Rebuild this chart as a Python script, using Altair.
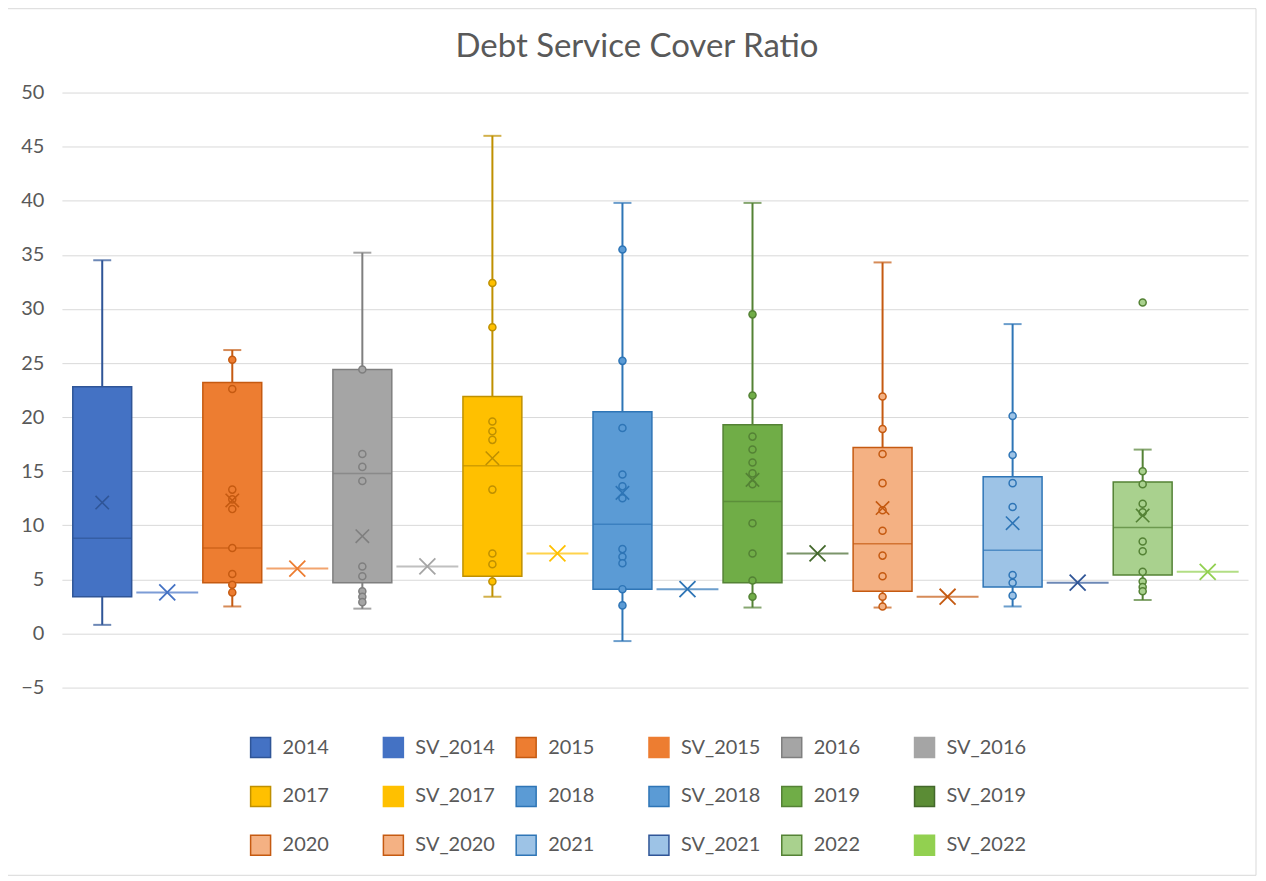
import altair as alt
import pandas as pd

# ---------------- data ----------------
years = ["2014", "2015", "2016", "2017", "2018", "2019", "2020", "2021", "2022"]
sv_names = ["SV_" + y for y in years]
series = [s for pair in zip(years, sv_names) for s in pair]

box_min = [0.8, 2.5, 2.3, 3.4, -0.7, 2.4, 2.4, 2.5, 3.1]
box_q1 = [3.4, 4.7, 4.7, 5.3, 4.1, 4.7, 3.9, 4.3, 5.4]
box_median = [8.8, 7.9, 14.8, 15.5, 10.1, 12.2, 8.3, 7.7, 9.8]
box_q3 = [22.8, 23.2, 24.4, 21.9, 20.5, 19.3, 17.2, 14.5, 14.0]
box_max = [34.5, 26.2, 35.2, 46.0, 39.8, 39.8, 34.3, 28.6, 17.0]
box_mean = [12.1, 12.3, 9.0, 16.2, 13.0, 14.2, 11.6, 10.2, 10.9]

points_2015 = [25.3, 22.6, 13.3, 12.4, 11.5, 7.9, 5.5, 4.5, 3.8]
points_2016 = [24.4, 16.6, 15.4, 14.1, 6.2, 5.3, 3.9, 3.4, 2.9]
points_2017 = [32.4, 28.3, 19.6, 18.7, 17.9, 13.3, 7.4, 6.4, 4.8]
points_2018 = [35.5, 25.2, 19.0, 14.7, 13.6, 12.5, 7.8, 7.1, 6.5, 4.1, 2.6]
points_2019 = [29.5, 22.0, 18.2, 17.0, 15.8, 14.8, 13.8, 10.2, 7.4, 4.9, 3.4]
points_2020 = [21.9, 18.9, 16.6, 13.9, 11.4, 9.5, 7.2, 5.3, 3.4, 2.5]
points_2021 = [20.1, 16.5, 13.9, 11.7, 5.4, 4.7, 3.5]
points_2022 = [30.6, 15.0, 13.8, 12.0, 11.2, 8.5, 7.6, 5.7, 4.8, 4.3, 3.9]

sv_values = [3.8, 6.0, 6.2, 7.4, 4.1, 7.4, 3.4, 4.7, 5.7]

fill_colors = [
    "#4472C4", "#4472C4", "#ED7D31", "#ED7D31", "#A5A5A5", "#A5A5A5",
    "#FFC000", "#FFC000", "#5B9BD5", "#5B9BD5", "#70AD47", "#5B8C35",
    "#F4B183", "#F4B183", "#9DC3E6", "#9DC3E6", "#A9D18E", "#92D050",
]
stroke_colors = [
    "#2F5597", "#4472C4", "#C55A11", "#ED7D31", "#7F7F7F", "#A5A5A5",
    "#BF9000", "#FFC000", "#2E75B6", "#2E75B6", "#548235", "#43682B",
    "#C55A11", "#C55A11", "#2E75B6", "#2F5597", "#548235", "#92D050",
]
title_text = "Debt Service Cover Ratio"

# ---------------- tables ----------------
box_df = pd.DataFrame({
    "series": years, "min": box_min, "q1": box_q1, "median": box_median,
    "q3": box_q3, "max": box_max, "mean": box_mean,
})
pts_lists = {
    "2015": points_2015, "2016": points_2016, "2017": points_2017,
    "2018": points_2018, "2019": points_2019, "2020": points_2020,
    "2021": points_2021, "2022": points_2022,
}
pts_df = pd.DataFrame(
    [{"series": k, "value": v} for k, vals in pts_lists.items() for v in vals]
)
sv_df = pd.DataFrame({"series": sv_names, "value": sv_values})

# colour order for the data-driven (alphabetical) line-colour scale
sorted_series = sorted(series)
line_colors_sorted = [stroke_colors[series.index(s)] for s in sorted_series]

FONT = "Lato"
GREY = "#595959"

x_enc = alt.X("series:N", scale=alt.Scale(domain=series, paddingInner=0, paddingOuter=0.12),
              axis=None)
y_scale = alt.Scale(domain=[-5, 50], nice=False, zero=False)
y_axis = alt.Axis(values=list(range(-5, 51, 5)), title=None, domain=False, ticks=False,
                  labelFontSize=20, labelFont=FONT, labelColor=GREY, labelPadding=18,
                  gridColor="#D9D9D9", gridWidth=1)


def Y(field):
    return alt.Y(f"{field}:Q", scale=y_scale, axis=y_axis, title=None)


legend = alt.Legend(
    title=None, orient="none", legendX=188, legendY=645, columns=6, direction="horizontal",
    gridAlign="all", symbolType="square", symbolSize=400, symbolStrokeWidth=1.5,
    labelFontSize=20, labelFont=FONT, labelColor=GREY, labelOffset=11,
    columnPadding=18, rowPadding=23,
)
fill_enc = alt.Fill("series:N", scale=alt.Scale(domain=series, range=fill_colors), legend=legend)
stroke_enc = alt.Stroke("series:N", scale=alt.Scale(domain=series, range=stroke_colors), legend=legend)
color_enc = alt.Color("series:N", scale=alt.Scale(range=line_colors_sorted), legend=None)

x_shape = "M-1,-1L1,1M-1,1L1,-1"

one = pd.DataFrame({"title": [title_text]})
frame = alt.Chart(one).mark_rect(
    filled=False, stroke="#D9D9D9", strokeWidth=1
).encode(x=alt.value(-57), x2=alt.value(1196), y=alt.value(-84), y2=alt.value(784))
title = alt.Chart(one).mark_text(
    font=FONT, fontSize=33, color=GREY, align="center", baseline="middle"
).encode(text="title:N", x=alt.value(576), y=alt.value(-46))

base = alt.Chart(box_df)
whisker = base.mark_rule(strokeWidth=2).encode(x=x_enc, y=Y("min"), y2="max", color=color_enc)
cap_lo = base.mark_tick(size=18, thickness=2).encode(x=x_enc, y=Y("min"), color=color_enc)
cap_hi = base.mark_tick(size=18, thickness=2).encode(x=x_enc, y=Y("max"), color=color_enc)
box = base.mark_bar(size=59, strokeWidth=1.5).encode(
    x=x_enc, y=Y("q1"), y2="q3", fill=fill_enc, stroke=stroke_enc)
median = base.mark_tick(size=59, thickness=1.5).encode(x=x_enc, y=Y("median"), color=color_enc)
mean = base.mark_point(shape=x_shape, size=180, strokeWidth=1.6, filled=False, opacity=1).encode(
    x=x_enc, y=Y("mean"), color=color_enc)

pts = alt.Chart(pts_df).mark_circle(size=50, strokeWidth=1.5, opacity=1).encode(
    x=x_enc, y=Y("value"), fill=fill_enc, stroke=stroke_enc)

sv_line = alt.Chart(sv_df).mark_tick(size=62, thickness=2).encode(
    x=x_enc, y=Y("value"), color=color_enc)
sv_x = alt.Chart(sv_df).mark_point(shape=x_shape, size=256, strokeWidth=1.8, filled=False,
                                   opacity=1).encode(x=x_enc, y=Y("value"), color=color_enc)

chart = alt.layer(frame, title, whisker, cap_lo, cap_hi, box, median, pts, mean, sv_line, sv_x).properties(
    width=1188, height=596,
    autosize=alt.AutoSizeParams(type="none"),
    padding={"left": 54, "top": 84, "right": 10, "bottom": 190},
).configure(background="white").configure_view(stroke=None)

chart.save("out.html", embed_options={"renderer": "svg", "actions": False})
